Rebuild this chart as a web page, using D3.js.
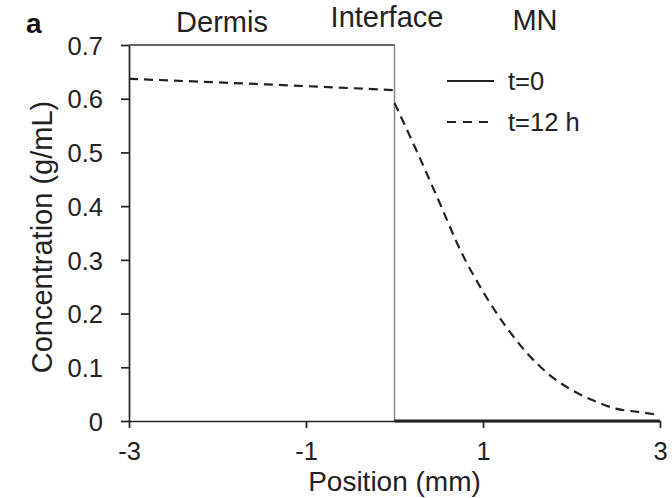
<!DOCTYPE html>
<html>
<head>
<meta charset="utf-8">
<script src="https://cdn.jsdelivr.net/npm/d3@7"></script>
<style>
  html, body { margin: 0; padding: 0; background: #fff; }
  svg { display: block; font-family: "Liberation Sans", Arial, sans-serif; }
</style>
</head>
<body>
<svg id="chart" width="672" height="498"></svg>
<script>
// ---- data ----
const xTickValues = [-3, -1, 1, 3];
const xTickLabels = ["-3", "-1", "1", "3"];
const yTickValues = [0, 0.1, 0.2, 0.3, 0.4, 0.5, 0.6, 0.7];
const yTickLabels = ["0", "0.1", "0.2", "0.3", "0.4", "0.5", "0.6", "0.7"];

const regionNames = ["Dermis", "Interface", "MN"];

// t=0 (solid)
const t0DermisPos = [-3, 0];
const t0DermisConc = [0.7, 0.7];
const t0MNPos = [0, 3];
const t0MNConc = [0, 0];

// t=12 h (dashed)
const t12DermisPos = [-3, -1.5, 0];
const t12DermisConc = [0.637, 0.627, 0.616];
const t12MNPos = [0, 0.25, 0.5, 0.75, 1.0, 1.25, 1.5, 1.75, 2.0, 2.25, 2.5, 2.75, 3.0];
const t12MNConc = [0.592, 0.503, 0.41, 0.316, 0.241, 0.178, 0.126, 0.086, 0.058, 0.038, 0.023, 0.017, 0.011];

const interfacePos = 0;
const legendLabels = ["t=0", "t=12 h"];

// ---- drawing ----
const svg = d3.select("#chart");
const x = d3.scaleLinear().domain([-3, 3]).range([129, 660]);
const y = d3.scaleLinear().domain([0, 0.7]).range([421, 45]);
const ink = "#222";

const zip = (a, b) => a.map((v, i) => [v, b[i]]);
const line = d3.line().x(d => x(d[0])).y(d => y(d[1]));
const curve = d3.line().x(d => x(d[0])).y(d => y(d[1])).curve(d3.curveMonotoneX);

// interface line
svg.append("line")
  .attr("x1", x(interfacePos)).attr("x2", x(interfacePos))
  .attr("y1", y(0.7)).attr("y2", y(0))
  .attr("stroke", "#888").attr("stroke-width", 1.5);

// axes
const yAxis = d3.axisLeft(y).tickValues(yTickValues)
  .tickFormat((d, i) => yTickLabels[i]).tickSize(8).tickSizeOuter(0).tickPadding(18);
const xAxis = d3.axisBottom(x).tickValues(xTickValues)
  .tickFormat((d, i) => xTickLabels[i]).tickSize(7).tickSizeOuter(0).tickPadding(14);

const gy = svg.append("g").attr("transform", `translate(${x(-3)},0)`).call(yAxis);
const gx = svg.append("g").attr("transform", `translate(0,${y(0)})`).call(xAxis);
[gx, gy].forEach(g => {
  g.selectAll("path.domain").attr("stroke", ink).attr("stroke-width", 1.7);
  g.selectAll(".tick line").attr("stroke", ink).attr("stroke-width", 1.7);
  g.selectAll(".tick text").attr("fill", ink).style("font-size", "25.5px")
    .style("font-family", "'Liberation Sans', Arial, sans-serif");
});
gy.selectAll(".tick text").attr("dy", "0.36em");

// t=0 solid
svg.append("path").datum(zip(t0DermisPos, t0DermisConc)).attr("d", line)
  .attr("fill", "none").attr("stroke", "#333").attr("stroke-width", 1.7);
svg.append("path").datum(zip(t0MNPos, t0MNConc)).attr("d", line)
  .attr("fill", "none").attr("stroke", ink).attr("stroke-width", 3);

// t=12 h dashed
svg.append("path").datum(zip(t12DermisPos, t12DermisConc)).attr("d", curve)
  .attr("fill", "none").attr("stroke", ink).attr("stroke-width", 2.2)
  .attr("stroke-dasharray", "9,6");
svg.append("path").datum(zip(t12MNPos, t12MNConc)).attr("d", curve)
  .attr("fill", "none").attr("stroke", ink).attr("stroke-width", 2.2)
  .attr("stroke-dasharray", "9,6");

// legend
const legendY = [81, 122];
const legendDash = [null, "9,7"];
legendLabels.forEach((lab, i) => {
  svg.append("line").attr("x1", 447).attr("x2", 494)
    .attr("y1", legendY[i]).attr("y2", legendY[i])
    .attr("stroke", ink).attr("stroke-width", 2)
    .attr("stroke-dasharray", legendDash[i]);
  svg.append("text").attr("x", 508).attr("y", legendY[i] + 9)
    .attr("fill", ink).style("font-size", "25.5px").text(lab);
});

// region labels
const regionX = [222, 387, 535];
const regionBase = [32, 27, 30];
regionNames.forEach((n, i) => {
  svg.append("text").attr("x", regionX[i]).attr("y", regionBase[i])
    .attr("text-anchor", "middle").attr("fill", ink)
    .style("font-size", "29px").text(n);
});

// panel letter
svg.append("text").attr("x", 26).attr("y", 33).attr("fill", "#111")
  .style("font-size", "28px").style("font-weight", "bold").text("a");

// axis titles
svg.append("text").attr("x", (x(-3) + x(3)) / 2).attr("y", 491)
  .attr("text-anchor", "middle").attr("fill", ink)
  .style("font-size", "28px").text("Position (mm)");
svg.append("text")
  .attr("transform", `translate(52,${(y(0) + y(0.7)) / 2 + 4}) rotate(-90)`)
  .attr("text-anchor", "middle").attr("fill", ink)
  .style("font-size", "29px").text("Concentration (g/mL)");
</script>
</body>
</html>
